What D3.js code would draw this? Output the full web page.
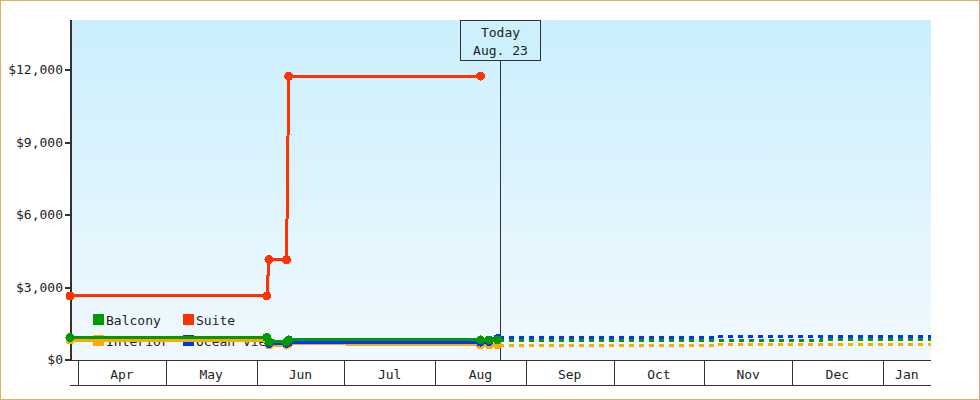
<!DOCTYPE html>
<html lang="en">
<head>
  <meta charset="utf-8"/>
  <title>Cabin prices</title>
  <style>
    html, body { margin: 0; padding: 0; background: #fff; }
    svg { display: block; font-family: "DejaVu Sans Mono", monospace; font-size: 13px; }
    .axis-line { stroke: #333; fill: none; }
    .label { fill: #222; }
  </style>
</head>
<body>
<svg id="chart" width="980" height="400" shape-rendering="crispEdges"></svg>

<script src="https://cdn.jsdelivr.net/npm/d3@7/dist/d3.min.js"></script>
<script>

  // observed prices (date, price)
  let suite = [
    ['2023-03-29T06:00', 2650],
    ['2023-06-04T12:00', 2650],
    ['2023-06-05T06:00', 4150],
    ['2023-06-11T06:00', 4150],
    ['2023-06-12T00:00', 11750],
    ['2023-08-16T12:00', 11750]
  ];
  let balcony = [
    ['2023-03-29T06:00', 930],
    ['2023-06-04T12:00', 930],
    ['2023-06-05T06:00', 745],
    ['2023-06-11T06:00', 745],
    ['2023-06-12T00:00', 830],
    ['2023-08-16T12:00', 830],
    ['2023-08-19T12:00', 830],
    ['2023-08-22T10:00', 830]
  ];
  let interior = [
    ['2023-03-29T06:00', 827],
    ['2023-06-04T12:00', 827],
    ['2023-06-05T06:00', 620],
    ['2023-06-11T06:00', 620],
    ['2023-06-12T00:00', 680],
    ['2023-08-16T12:00', 620],
    ['2023-08-19T12:00', 620],
    ['2023-08-22T10:00', 620]
  ];
  let oceanView = [
    ['2023-06-05T06:00', 683],
    ['2023-06-11T06:00', 683],
    ['2023-06-12T00:00', 740],
    ['2023-08-16T12:00', 740],
    ['2023-08-19T12:00', 770],
    ['2023-08-22T10:00', 890]
  ];

  // projected prices after today (step changes)
  let balconyForecast = [
    ['2023-08-23T00:00', 827],
    ['2023-12-11T00:00', 869],
    ['2024-01-17T12:00', 869]
  ];
  let interiorForecast = [
    ['2023-08-23T00:00', 620],
    ['2023-11-05T00:00', 662],
    ['2024-01-17T12:00', 662]
  ];
  let oceanViewForecast = [
    ['2023-08-23T00:00', 931],
    ['2023-11-05T00:00', 972],
    ['2024-01-17T12:00', 972]
  ];

  let yTicks = [0, 3000, 6000, 9000, 12000];
  let today = '2023-08-23T04:00';
  let todayLabel = ['Today', 'Aug. 23'];

  let series = [
    {name: 'Balcony', color: '#009900', data: balcony, forecast: balconyForecast},
    {name: 'Interior', color: '#ffaa00', data: interior, forecast: interiorForecast},
    {name: 'Ocean View', color: '#0033ff', data: oceanView, forecast: oceanViewForecast},
    {name: 'Suite', color: '#ff3300', data: suite, forecast: null}
  ];
  // legend is laid out column first in two rows
  let legendOrder = ['Balcony', 'Suite', 'Interior', 'Ocean View'];
  // lines drawn bottom to top
  let drawOrder = ['Suite', 'Interior', 'Ocean View', 'Balcony'];

  let parse = d3.isoParse;
  let plotLeft = 70, plotRight = 931, plotTop = 20, plotBottom = 360, bandBottom = 385;

  let x = d3.scaleTime()
    .domain([parse('2023-03-29T06:00'), parse('2024-01-17T12:00')])
    .range([plotLeft, plotRight]);
  let y = d3.scaleLinear()
    .domain([0, 14070])
    .range([plotBottom, plotTop]);

  let svg = d3.select('#chart');

  // background gradient
  let grad = svg.append('defs').append('linearGradient')
    .attr('id', 'bg').attr('x1', 0).attr('y1', 0).attr('x2', 0).attr('y2', 1);
  grad.append('stop').attr('offset', '0%').attr('stop-color', '#cbeffd');
  grad.append('stop').attr('offset', '100%').attr('stop-color', '#f1f9fe');

  svg.append('rect')
    .attr('x', 0.5).attr('y', 0.5).attr('width', 979).attr('height', 399)
    .attr('fill', '#fff').attr('stroke', '#e9aa62');

  svg.append('rect')
    .attr('x', plotLeft).attr('y', plotTop)
    .attr('width', plotRight - plotLeft).attr('height', plotBottom - plotTop)
    .attr('fill', 'url(#bg)');

  // month band
  let months = d3.timeMonth.range(x.domain()[0], x.domain()[1]);
  let band = svg.append('g');
  band.append('line').attr('class', 'axis-line')
    .attr('x1', plotLeft).attr('x2', plotRight).attr('y1', plotBottom + 0.5).attr('y2', plotBottom + 0.5);
  band.append('line').attr('class', 'axis-line')
    .attr('x1', plotLeft).attr('x2', plotRight).attr('y1', bandBottom + 0.5).attr('y2', bandBottom + 0.5);
  band.selectAll('line.sep')
    .data(months)
    .enter()
    .append('line')
    .attr('class', 'axis-line sep')
    .attr('x1', d => Math.round(x(d)) + 0.5)
    .attr('x2', d => Math.round(x(d)) + 0.5)
    .attr('y1', plotBottom).attr('y2', bandBottom);
  band.selectAll('text')
    .data(months)
    .enter()
    .append('text')
    .attr('class', 'label')
    .attr('text-anchor', 'middle')
    .attr('x', d => {
      let next = Math.min(x(d3.timeMonth.offset(d, 1)), plotRight);
      return (x(d) + next) / 2;
    })
    .attr('y', 379)
    .text(d => d3.timeFormat('%b')(d));

  // y axis
  let yAxis = svg.append('g');
  yAxis.append('line').attr('class', 'axis-line')
    .attr('stroke-width', 2)
    .attr('x1', plotLeft + 1).attr('x2', plotLeft + 1).attr('y1', plotTop).attr('y2', plotBottom + 1);
  yAxis.selectAll('line.tick')
    .data(yTicks)
    .enter()
    .append('line')
    .attr('class', 'axis-line tick')
    .attr('stroke-width', 2)
    .attr('x1', plotLeft - 5).attr('x2', plotLeft)
    .attr('y1', d => Math.round(y(d))).attr('y2', d => Math.round(y(d)));
  yAxis.selectAll('text')
    .data(yTicks)
    .enter()
    .append('text')
    .attr('class', 'label')
    .attr('text-anchor', 'end')
    .attr('x', 63)
    .attr('y', d => y(d))
    .attr('dy', '0.34em')
    .text(d => '$' + d3.format(',')(d));

  // legend (under the lines)
  let legend = svg.append('g');
  legendOrder.forEach(function (name, i) {
    let s = series.find(item => item.name === name);
    let lx = 93 + (i % 2) * 90;
    let ly = 314 + Math.floor(i / 2) * 21;
    legend.append('rect')
      .attr('x', lx).attr('y', ly).attr('width', 11).attr('height', 11)
      .attr('fill', s.color);
    legend.append('text')
      .attr('class', 'label')
      .attr('x', lx + 13).attr('y', ly + 11)
      .text(name);
  });

  // today marker
  let todayX = Math.round(x(parse(today))) + 0.5;
  svg.append('line').attr('class', 'axis-line')
    .attr('x1', todayX).attr('x2', todayX).attr('y1', 60).attr('y2', plotBottom);
  svg.append('rect')
    .attr('x', todayX - 40).attr('y', plotTop + 0.5).attr('width', 80).attr('height', 40)
    .attr('fill', '#cdf0fd').attr('stroke', '#333');
  svg.selectAll('text.today')
    .data(todayLabel)
    .enter()
    .append('text')
    .attr('class', 'label today')
    .attr('text-anchor', 'middle')
    .attr('x', todayX)
    .attr('y', (d, i) => 37 + i * 18)
    .text(d => d);

  // lines
  let line = d3.line()
    .x(d => x(parse(d[0])))
    .y(d => y(d[1]));
  let stepLine = d3.line()
    .curve(d3.curveStepAfter)
    .x(d => x(parse(d[0])))
    .y(d => y(d[1]));

  let plot = svg.append('g');

  drawOrder.forEach(function (name) {
    let s = series.find(item => item.name === name);
    if (s.forecast) {
      plot.append('path')
        .attr('d', stepLine(s.forecast))
        .attr('fill', 'none')
        .attr('stroke', s.color)
        .attr('stroke-width', 3)
        .attr('stroke-dasharray', '5,5');
    }
  });

  drawOrder.forEach(function (name) {
    let s = series.find(item => item.name === name);
    plot.append('path')
      .attr('d', line(s.data))
      .attr('fill', 'none')
      .attr('stroke', s.color)
      .attr('stroke-width', 3);
    plot.selectAll(null)
      .data(s.data)
      .enter()
      .append('circle')
      .attr('cx', d => x(parse(d[0])))
      .attr('cy', d => y(d[1]))
      .attr('r', 4.5)
      .attr('fill', s.color);
  });

</script>
</body>
</html>
